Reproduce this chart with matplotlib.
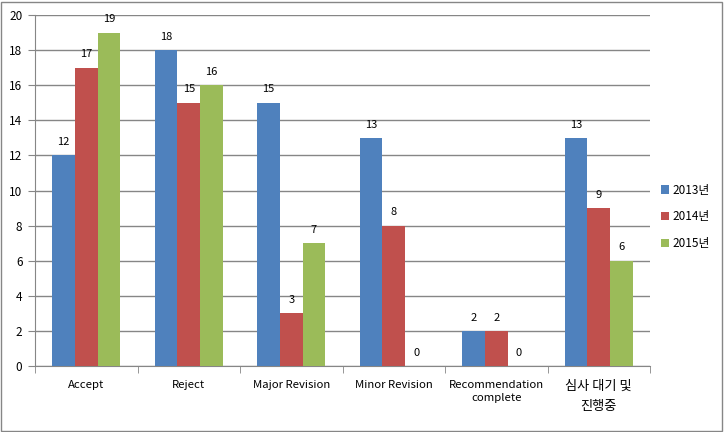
import numpy as np
import matplotlib
matplotlib.use("Agg")
import matplotlib.pyplot as plt
from matplotlib.patches import Rectangle

plt.rcParams['font.family'] = ['Noto Sans CJK KR', 'DejaVu Sans']

categories = ['Accept', 'Reject', 'Major Revision', 'Minor Revision',
              'Recommendation\ncomplete', '심사 대기 및\n진행중']
series_names = ['2013년', '2014년', '2015년']
v2013 = [12, 18, 15, 13, 2, 13]
v2014 = [17, 15, 3, 8, 2, 9]
v2015 = [19, 16, 7, 0, 0, 6]
colors = ['#4F81BD', '#C0504D', '#9BBB59']

fig = plt.figure(figsize=(7.24, 4.32), dpi=100)
ax = fig.add_axes([35 / 724, 66 / 432, 615 / 724, 351 / 432])

# outer chart border
fig.patches.append(Rectangle((0.002, 0.003), 0.995, 0.993, transform=fig.transFigure,
                             fill=False, edgecolor='#868686', linewidth=1))

x = np.arange(len(categories))
w = 0.22
for i, (vals, name) in enumerate(zip([v2013, v2014, v2015], series_names)):
    bars = ax.bar(x + (i - 1) * w, vals, w, color=colors[i], label=name, zorder=3)
    for b, v in zip(bars, vals):
        ax.annotate(str(v), (b.get_x() + b.get_width() / 2, v), xytext=(0, 6),
                    textcoords='offset points', ha='center', va='bottom', fontsize=8)

ax.set_xlim(-0.5, len(categories) - 0.5)
ax.set_ylim(0, 20)
ax.set_yticks(range(0, 21, 2))
ax.yaxis.grid(True, color='#868686', linewidth=1, zorder=0)
ax.set_axisbelow(True)

ax.set_xticks(x)
ax.set_xticklabels(categories, fontsize=8.2, linespacing=1.4)
ax.get_xticklabels()[-1].set_fontsize(9.5)
ax.get_xticklabels()[-1].set_linespacing(1.75)
ax.set_xticks(np.arange(-0.5, len(categories)), minor=True)
ax.tick_params(axis='x', which='major', length=0, pad=10)
ax.tick_params(axis='x', which='minor', length=5, color='#868686', direction='out')
ax.tick_params(axis='y', length=5, color='#868686', labelsize=8.5, pad=4)

for s in ['top', 'right']:
    ax.spines[s].set_visible(False)
for s in ['left', 'bottom']:
    ax.spines[s].set_color('#868686')

ax.legend(loc='center left', bbox_to_anchor=(1.0, 0.425), frameon=False, fontsize=8.5,
          handlelength=0.7, handleheight=0.7, handletextpad=0.3, labelspacing=1.15)

fig.savefig('out.png', dpi=100)
